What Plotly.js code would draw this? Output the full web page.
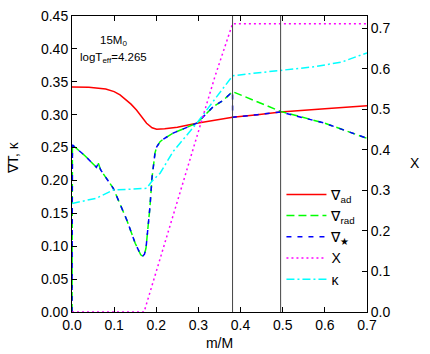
<!DOCTYPE html>
<html>
<head>
<meta charset="utf-8">
<script src="https://cdn.plot.ly/plotly-3.0.1.min.js"></script>
<style>
  html, body { margin: 0; padding: 0; background: #fff; }
  #chart { width: 430px; height: 354px; }
</style>
</head>
<body>
<div id="chart"></div>
<script>
// values, m/M on x
let mAd = [0, 0.04, 0.08, 0.1, 0.114, 0.14, 0.153, 0.165, 0.177, 0.19, 0.201, 0.22, 0.25, 0.296, 0.35, 0.381, 0.44, 0.495, 0.6, 0.7];
let gradAd = [0.342, 0.3415, 0.339, 0.335, 0.330, 0.316, 0.307, 0.297, 0.287, 0.280, 0.278, 0.2785, 0.281, 0.287, 0.292, 0.296, 0.300, 0.304, 0.309, 0.3135];

let mRad = [0, 0.001, 0.03, 0.058, 0.0625, 0.068, 0.098, 0.13, 0.15, 0.158, 0.163, 0.168, 0.172, 0.1756, 0.18, 0.185, 0.19, 0.193, 0.197, 0.201, 0.209, 0.217, 0.24, 0.27, 0.296, 0.335, 0.359, 0.381, 0.44, 0.495, 0.6, 0.7];
let gradRad = [0, 0.254, 0.238, 0.220, 0.226, 0.216, 0.188, 0.140, 0.1045, 0.094, 0.087, 0.085, 0.088, 0.097, 0.125, 0.160, 0.205, 0.226, 0.242, 0.251, 0.259, 0.263, 0.272, 0.280, 0.287, 0.312, 0.322, 0.335, 0.320, 0.305, 0.287, 0.264];

let mStar = [0, 0.001, 0.03, 0.058, 0.0625, 0.068, 0.098, 0.13, 0.15, 0.158, 0.163, 0.168, 0.172, 0.1756, 0.18, 0.185, 0.19, 0.193, 0.197, 0.201, 0.209, 0.217, 0.24, 0.27, 0.296, 0.335, 0.359, 0.381, 0.3811, 0.44, 0.495, 0.6, 0.7];
let gradStar = [0, 0.254, 0.238, 0.220, 0.226, 0.216, 0.188, 0.140, 0.1045, 0.094, 0.087, 0.085, 0.088, 0.097, 0.125, 0.160, 0.205, 0.226, 0.242, 0.251, 0.259, 0.263, 0.272, 0.280, 0.287, 0.312, 0.322, 0.335, 0.296, 0.300, 0.304, 0.287, 0.264];

let mX = [0, 0.171, 0.339, 0.381, 0.7];
let hydrogenX = [0, 0, 0.58, 0.711, 0.711];

let mKappa = [0, 0.058, 0.098, 0.14, 0.177, 0.19, 0.209, 0.24, 0.296, 0.343, 0.381, 0.418, 0.495, 0.577, 0.64, 0.7];
let kappa = [0.165, 0.173, 0.1855, 0.187, 0.188, 0.199, 0.211, 0.244, 0.287, 0.327, 0.359, 0.362, 0.367, 0.373, 0.380, 0.394];

let boundaries = [0.381, 0.495];

function makeTraces()
{
    let tAd = {
        x: mAd, y: gradAd, mode: 'lines', type: 'scatter',
        name: '\u2207<sub>ad</sub>',
        line: {color: '#ff0000', width: 1.5}
    };
    let tRad = {
        x: mRad, y: gradRad, mode: 'lines', type: 'scatter',
        name: '\u2207<sub>rad</sub>',
        line: {color: '#00ff00', width: 1.5, dash: '8px,4px'}
    };
    let tStar = {
        x: mStar, y: gradStar, mode: 'lines', type: 'scatter',
        name: '\u2207<sub>\u2605</sub>',
        line: {color: '#0000ff', width: 1.5, dash: '5px,6px'}
    };
    let tX = {
        x: mX, y: hydrogenX, mode: 'lines', type: 'scatter', yaxis: 'y2',
        name: 'X',
        line: {color: '#ff00ff', width: 1.5, dash: '2px,3px'}
    };
    let tK = {
        x: mKappa, y: kappa, mode: 'lines', type: 'scatter',
        name: '\u03ba',
        line: {color: '#00ffff', width: 1.5, dash: '8px,3px,2px,3px'}
    };
    return [tAd, tRad, tStar, tX, tK];
}

function plotChart()
{
    let shapes = boundaries.map(function(b) {
        return {type: 'line', xref: 'x', yref: 'paper', x0: b, x1: b, y0: 0, y1: 1,
                line: {color: '#444', width: 1}};
    });

    let layout = {
        width: 430,
        height: 354,
        margin: {l: 72, r: 63, t: 16, b: 42},
        paper_bgcolor: '#fff',
        plot_bgcolor: '#fff',
        font: {family: 'Liberation Sans, Arial, sans-serif', size: 14, color: '#000'},
        showlegend: true,
        legend: {
            x: 0.71, y: 0.45, xanchor: 'left', yanchor: 'top',
            bgcolor: 'rgba(0,0,0,0)', borderwidth: 0,
            font: {size: 14}, tracegroupgap: 0, itemwidth: 40
        },
        xaxis: {
            range: [0, 0.7], dtick: 0.1, tickformat: '.1f',
            ticks: 'inside', ticklen: 5, tickcolor: '#000',
            showline: true, linecolor: '#000', linewidth: 1, mirror: 'ticks',
            showgrid: false, zeroline: false,
            title: {text: 'm/M', standoff: 6, font: {size: 14}}
        },
        yaxis: {
            range: [0, 0.45], dtick: 0.05, tickformat: '.2f',
            ticks: 'inside', ticklen: 5, tickcolor: '#000',
            showline: true, linecolor: '#000', linewidth: 1,
            showgrid: false, zeroline: false
        },
        yaxis2: {
            range: [0, 0.73], dtick: 0.1, tickformat: '.1f',
            overlaying: 'y', side: 'right',
            ticks: 'inside', ticklen: 5, tickcolor: '#000',
            showline: true, linecolor: '#000', linewidth: 1,
            showgrid: false, zeroline: false
        },
        shapes: shapes,
        annotations: [
            {xref: 'paper', yref: 'paper', x: 0.139, y: 0.946, xanchor: 'center', showarrow: false,
             text: '15M<sub>0</sub>', font: {size: 11.5}},
            {xref: 'paper', yref: 'paper', x: 0.142, y: 0.89, xanchor: 'center', showarrow: false,
             text: 'logT<sub>eff</sub>=4.265', font: {size: 11.5}},
            {xref: 'paper', yref: 'paper', x: -0.2, y: 0.52, xanchor: 'center', showarrow: false,
             textangle: -90, text: '\u2207T, \u03ba', font: {size: 14}},
            {xref: 'paper', yref: 'paper', x: 1.163, y: 0.503, xanchor: 'center', showarrow: false,
             text: 'X', font: {size: 14}}
        ]
    };

    Plotly.newPlot('chart', makeTraces(), layout, {displayModeBar: false, staticPlot: true});
}

plotChart();
</script>
</body>
</html>
